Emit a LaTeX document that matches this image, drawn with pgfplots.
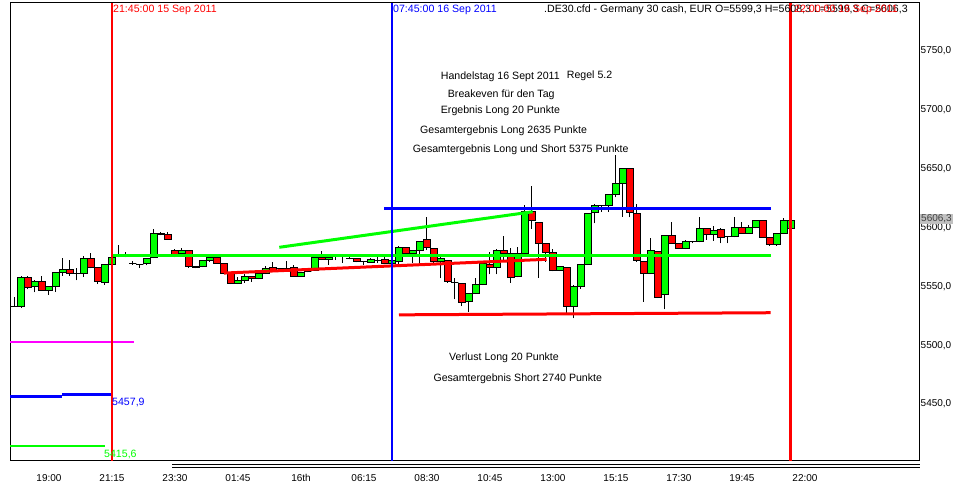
\documentclass[border=0pt]{standalone}
\usepackage{fontspec}
\setmainfont{Liberation Sans}
\usepackage{pgfplots}
\usepackage{pgfplotstable}
\pgfplotsset{compat=1.18}
\definecolor{cgreen}{RGB}{0,255,0}
\definecolor{cred}{RGB}{255,0,0}
\definecolor{cblue}{RGB}{0,0,255}
\definecolor{cmag}{RGB}{255,0,255}
\definecolor{cgray}{RGB}{192,192,192}
\pgfplotstableread{
i o h l c
1 5533.3 5540.7 5532.8 5533.3
2 5532.8 5558.5 5531.9 5557.7
3 5557.7 5558.8 5547.5 5549.2
4 5550.0 5555.1 5544.9 5554.3
5 5554.3 5558.8 5546.4 5546.9
6 5546.9 5550.6 5542.9 5550.0
7 5550.0 5562.5 5545.5 5561.9
8 5561.9 5574.1 5559.1 5564.5
9 5564.5 5572.4 5559.1 5561.1
10 5561.1 5565.3 5555.1 5561.1
11 5561.1 5575.8 5558.2 5573.8
12 5573.8 5578.4 5565.3 5565.9
13 5565.9 5566.5 5552.0 5554.3
14 5553.4 5569.3 5551.2 5568.7
15 5568.7 5575.2 5568.2 5574.7
16 5575.2 5585.2 5574.7 5575.2
17 5575.2 5579.2 5574.7 5575.2
18 5569.6 5571.8 5568.2 5569.6
19 5568.2 5568.5 5565.9 5568.2
20 5569.6 5574.4 5567.9 5573.8
21 5574.7 5598.8 5574.1 5595.1
22 5595.1 5596.5 5593.4 5593.7
23 5593.7 5596.2 5590.0 5590.0
24 5580.6 5582.0 5574.7 5577.5
25 5578.1 5582.3 5577.5 5580.6
26 5580.6 5581.0 5565.9 5566.7
27 5566.7 5567.3 5565.3 5565.9
28 5566.7 5571.9 5566.1 5571.6
29 5571.6 5575.2 5571.0 5574.7
30 5574.7 5576.7 5569.3 5569.6
31 5569.6 5570.2 5560.5 5561.1
32 5561.9 5562.5 5552.0 5552.6
33 5552.6 5558.2 5552.0 5555.4
34 5555.4 5560.2 5553.1 5558.5
35 5558.5 5558.8 5554.0 5557.1
36 5556.5 5561.6 5556.0 5561.1
37 5561.1 5567.0 5560.5 5564.8
38 5565.9 5570.7 5563.3 5563.9
39 5564.8 5565.3 5563.9 5564.8
40 5565.3 5571.6 5562.8 5565.3
41 5565.9 5567.9 5558.2 5558.5
42 5558.5 5562.2 5558.2 5561.6
43 5562.5 5563.1 5561.9 5562.5
44 5563.9 5575.2 5563.3 5574.7
45 5574.7 5580.1 5572.4 5573.0
46 5573.0 5575.2 5568.4 5574.7
47 5575.2 5576.7 5572.4 5575.2
48 5575.0 5575.8 5570.1 5575.0
49 5573.8 5574.7 5573.0 5573.8
50 5573.8 5574.4 5570.4 5571.0
51 5571.0 5571.6 5568.2 5571.0
52 5570.4 5574.1 5569.9 5573.0
53 5572.1 5575.0 5569.6 5572.1
54 5573.0 5574.7 5569.0 5569.6
55 5569.6 5572.7 5569.0 5572.1
56 5571.0 5584.3 5569.0 5583.2
57 5583.2 5583.8 5577.2 5578.1
58 5578.1 5580.9 5569.6 5580.3
59 5580.1 5588.9 5570.2 5588.3
60 5589.4 5608.7 5580.9 5583.2
61 5582.3 5582.9 5569.6 5571.0
62 5571.0 5575.2 5556.8 5573.8
63 5571.9 5572.5 5553.2 5554.0
64 5553.2 5556.8 5539.0 5553.2
65 5552.6 5553.2 5533.3 5536.5
66 5537.0 5544.7 5528.5 5544.1
67 5544.1 5556.8 5543.5 5551.7
68 5551.7 5571.6 5551.1 5569.6
69 5568.7 5579.5 5560.2 5566.2
70 5566.2 5581.5 5560.2 5580.9
71 5580.9 5592.8 5572.4 5578.1
72 5578.1 5582.3 5553.2 5557.7
73 5558.2 5583.2 5557.6 5578.1
74 5578.1 5619.2 5577.5 5613.5
75 5613.5 5635.3 5598.8 5605.6
76 5604.4 5605.0 5557.4 5586.6
77 5586.6 5587.2 5571.0 5578.7
78 5578.7 5581.8 5562.8 5563.4
79 5563.6 5567.6 5563.0 5567.0
80 5566.2 5566.8 5527.1 5533.3
81 5533.3 5550.9 5522.9 5550.3
82 5550.3 5569.3 5547.8 5568.7
83 5568.7 5612.7 5568.1 5612.1
84 5612.9 5619.7 5603.6 5618.6
85 5618.9 5619.5 5613.5 5618.9
86 5618.9 5628.3 5613.5 5627.7
87 5627.7 5661.7 5625.7 5637.6
88 5637.6 5650.9 5609.2 5650.3
89 5650.3 5650.9 5608.7 5612.9
90 5612.1 5620.0 5571.0 5571.9
91 5571.0 5571.6 5537.0 5561.1
92 5561.1 5591.4 5560.5 5580.1
93 5579.5 5580.1 5540.1 5540.7
94 5543.2 5593.7 5530.5 5593.1
95 5593.1 5604.4 5586.0 5586.6
96 5586.6 5587.2 5581.7 5582.3
97 5582.3 5589.4 5581.7 5588.0
98 5588.0 5588.9 5586.6 5588.0
99 5588.0 5608.7 5587.4 5599.3
100 5599.3 5599.9 5589.4 5594.2
101 5594.2 5601.3 5588.6 5597.6
102 5598.5 5599.6 5586.6 5591.7
103 5592.3 5592.9 5586.6 5592.3
104 5592.3 5608.7 5591.7 5599.9
105 5599.9 5605.0 5595.0 5595.1
106 5595.1 5602.2 5594.5 5599.9
107 5599.9 5606.4 5599.3 5605.8
108 5605.8 5606.4 5591.1 5591.7
109 5591.7 5592.3 5584.6 5585.2
110 5585.7 5595.7 5584.6 5595.1
111 5595.1 5607.8 5594.5 5605.8
112 5599.3 5608.3 5599.3 5606.3
}\candles
\begin{document}
\begin{tikzpicture}[x=1pt,y=1pt]
\useasboundingbox (0,0) rectangle (961,487);
\begin{axis}[
  scale only axis, width=909.5pt, height=458pt,
  at={(10pt,26pt)}, anchor=south west,
  xmin=0.4286, xmax=130.36, ymin=5401.6, ymax=5790.8,
  clip=false,
  axis line style={line width=1pt, black},
  major tick length=0pt,
  ytick={5450,5500,5550,5600,5650,5700,5750},
  yticklabels={{5450,0},{5500,0},{5550,0},{5600,0},{5650,0},{5700,0},{5750,0}},
  yticklabel pos=right,
  yticklabel style={font=\fontsize{10}{11}\selectfont, anchor=west, inner sep=1pt},
  xtick={6,15,24,33,42,51,60,69,78,87,96,105,114},
  xticklabels={19:00,21:15,23:30,01:45,16th,06:15,08:30,10:45,13:00,15:15,17:30,19:45,22:00},
  xticklabel style={font=\fontsize{10}{11}\selectfont, anchor=center, yshift=-17pt},
]
% candles
\pgfplotstablegetrowsof{\candles}
\pgfmathtruncatemacro\nlast{\pgfplotsretval-1}
\pgfplotsforeachungrouped \r in {0,...,\nlast}{%
  \pgfplotstablegetelem{\r}{i}\of\candles \let\ci\pgfplotsretval
  \pgfplotstablegetelem{\r}{o}\of\candles \let\co\pgfplotsretval
  \pgfplotstablegetelem{\r}{h}\of\candles \let\chh\pgfplotsretval
  \pgfplotstablegetelem{\r}{l}\of\candles \let\cl\pgfplotsretval
  \pgfplotstablegetelem{\r}{c}\of\candles \let\cc\pgfplotsretval
  \ifdim\cc pt<\co pt \def\col{cred}\else\def\col{cgreen}\fi
  \pgfmathsetmacro\xa{\ci-0.5}%
  \pgfmathsetmacro\xb{\ci+0.5}%
  \edef\tmp{\noexpand\addplot[black,line width=1pt,forget plot] coordinates {(\ci,\cl) (\ci,\chh)};%
    \noexpand\addplot[draw=black,fill=\col,line width=1pt,forget plot] coordinates {(\xa,\co) (\xb,\co) (\xb,\cc) (\xa,\cc) (\xa,\co)};}%
  \tmp
}
% indicator lines
\addplot[cgreen, line width=3pt, forget plot] coordinates {(15,5576.6) (109.1,5576.6)};
\addplot[cblue, line width=3pt, forget plot] coordinates {(53.9,5616.3) (109.1,5616.3)};
\addplot[cred, line width=3pt, forget plot] coordinates {(56.0,5525.8) (109.1,5527.6)};
\addplot[cgreen, line width=3pt, forget plot] coordinates {(38.9,5583.2) (75.1,5613.4)};
\addplot[cred, line width=3pt, forget plot] coordinates {(31.0,5561.3) (77.1,5573.0)};
% left level lines
\addplot[cmag, line width=2pt, forget plot] coordinates {(0.43,5502.5) (18.1,5502.5)};
\addplot[cblue, line width=3pt, forget plot] coordinates {(0.43,5456.6) (7.86,5456.6)};
\addplot[cblue, line width=3pt, forget plot] coordinates {(7.86,5457.7) (15,5457.7)};
\addplot[cgreen, line width=2pt, forget plot] coordinates {(0.43,5414.6) (14,5414.6)};
% vertical time lines
\addplot[cred, line width=2pt, forget plot] coordinates {(15,5401.6) (15,5790.8)};
\addplot[cblue, line width=2pt, forget plot] coordinates {(55,5401.6) (55,5790.8)};
\addplot[cred, line width=3pt, forget plot] coordinates {(112,5401.6) (112,5790.8)};
\end{axis}
% double line under the time axis
\draw[line width=1pt] (172,22.3) -- (920,22.3);
\draw[line width=1pt] (172,19.5) -- (920,19.5);
% texts
\begingroup
\fontsize{10.6}{12}\selectfont
\node[anchor=base west, inner sep=0pt, text=cred] at (113,474) {21:45:00 15 Sep 2011};
\node[anchor=base west, inner sep=0pt, text=cblue] at (393,474) {07:45:00 16 Sep 2011};
\node[anchor=base west, inner sep=0pt] at (544,474) {.DE30.cfd - Germany 30 cash, EUR O=5599,3 H=5608,3 L=5599,3 C=5606,3};
\node[anchor=base west, inner sep=0pt, text=cred] at (794,474) {22:00:00 16 Sep 2011};
\node[anchor=base west, inner sep=0pt] at (440.7,407) {Handelstag 16 Sept 2011};
\node[anchor=base west, inner sep=0pt] at (566.7,408.3) {Regel 5.2};
\node[anchor=base west, inner sep=0pt] at (447.7,389.7) {Breakeven für den Tag};
\node[anchor=base west, inner sep=0pt] at (440.7,373.7) {Ergebnis Long 20 Punkte};
\node[anchor=base west, inner sep=0pt] at (420,353.7) {Gesamtergebnis Long 2635 Punkte};
\node[anchor=base west, inner sep=0pt] at (412.7,334.7) {Gesamtergebnis Long und Short 5375 Punkte};
\node[anchor=base west, inner sep=0pt] at (449,126.3) {Verlust Long 20 Punkte};
\node[anchor=base west, inner sep=0pt] at (433.3,105.7) {Gesamtergebnis Short 2740 Punkte};
\node[anchor=base west, inner sep=0pt, text=cblue] at (112,81.3) {5457,9};
\node[anchor=base west, inner sep=0pt, text=cgreen] at (104,29.7) {5415,6};
\endgroup
\node[anchor=west, inner sep=1pt, fill=cgray, text=black!75, font=\fontsize{10}{11}\selectfont] at (920,268) {5606,3};
\end{tikzpicture}
\end{document}
